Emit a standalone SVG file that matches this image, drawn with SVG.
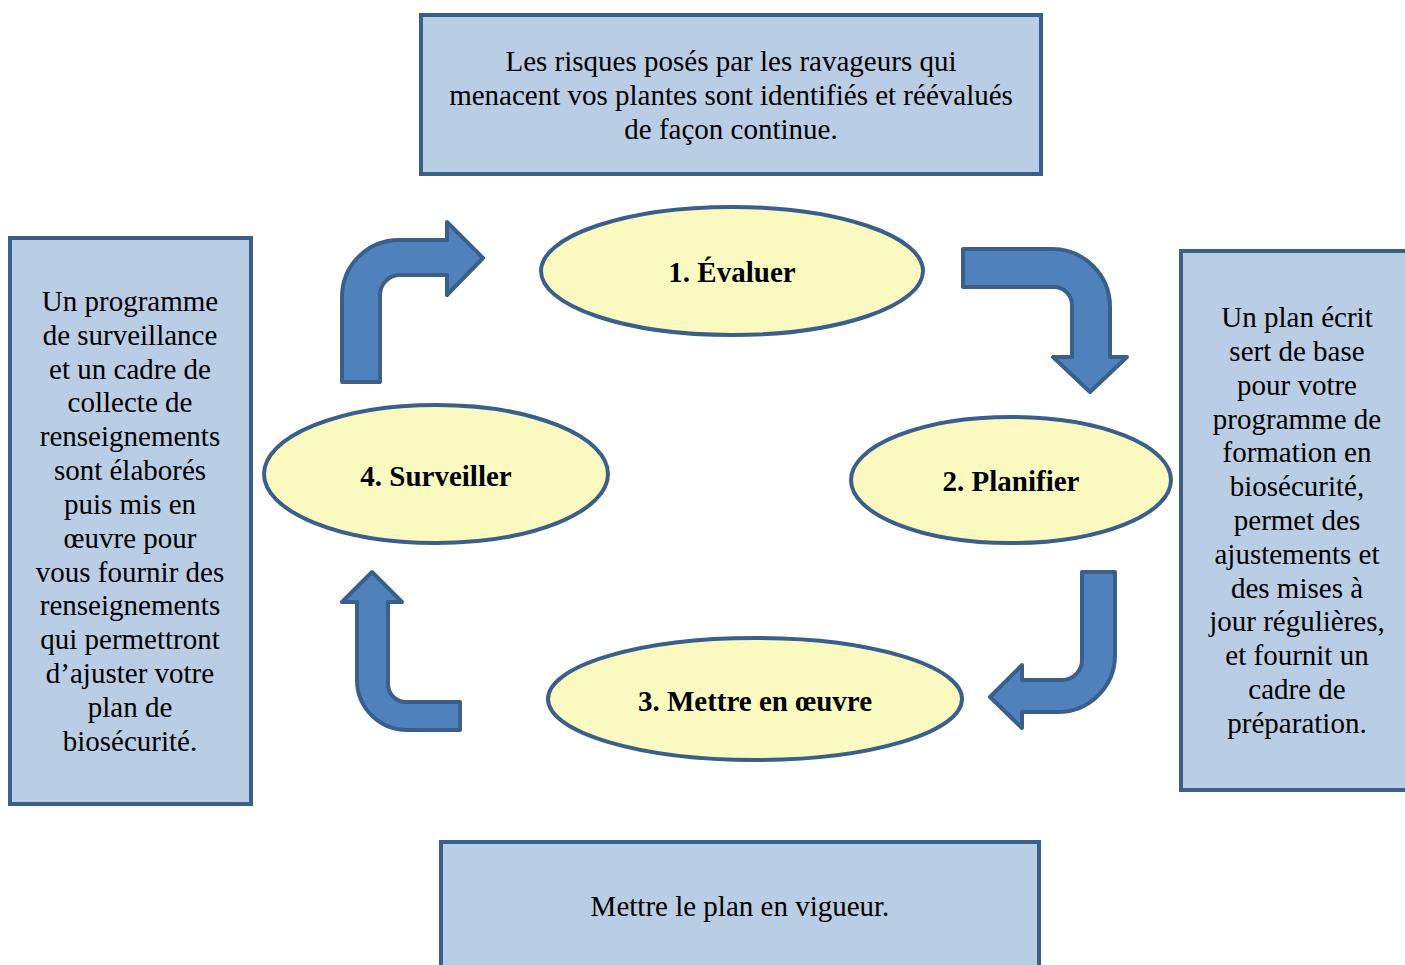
<svg xmlns="http://www.w3.org/2000/svg" width="1405" height="965" viewBox="0 0 1405 965">
<style>
.box{fill:#B9CDE5;stroke:#3A5F8B;stroke-width:4}
.ell{fill:#FAFAC0;stroke:#3A5F8B;stroke-width:4}
.arr{fill:#4F81BD;stroke:#3A5F8B;stroke-width:4;stroke-linejoin:round}
.t{font-family:"Liberation Serif","Times New Roman",serif;font-size:29px;fill:#000;text-anchor:middle}
.b{font-weight:bold}
</style>
<rect width="1405" height="965" fill="#FFFFFF"/>
<g id="box-top">
<rect class="box" x="421" y="15" width="620" height="159"/>
<text class="t" x="731" y="71">Les risques posés par les ravageurs qui</text>
<text class="t" x="731" y="105">menacent vos plantes sont identifiés et réévalués</text>
<text class="t" x="731" y="139">de façon continue.</text>
</g>
<g id="box-left">
<rect class="box" x="10" y="238" width="241" height="566"/>
<text class="t" x="130" y="311">Un programme</text>
<text class="t" x="130" y="345">de surveillance</text>
<text class="t" x="130" y="379">et un cadre de</text>
<text class="t" x="130" y="412">collecte de</text>
<text class="t" x="130" y="446">renseignements</text>
<text class="t" x="130" y="480">sont élaborés</text>
<text class="t" x="130" y="514">puis mis en</text>
<text class="t" x="130" y="548">œuvre pour</text>
<text class="t" x="130" y="582">vous fournir des</text>
<text class="t" x="130" y="615">renseignements</text>
<text class="t" x="130" y="649">qui permettront</text>
<text class="t" x="130" y="683">d’ajuster votre</text>
<text class="t" x="130" y="717">plan de</text>
<text class="t" x="130" y="751">biosécurité.</text>
</g>
<g id="box-right">
<rect class="box" x="1181" y="251" width="240" height="539"/>
<text class="t" x="1297" y="327">Un plan écrit</text>
<text class="t" x="1297" y="361">sert de base</text>
<text class="t" x="1297" y="395">pour votre</text>
<text class="t" x="1297" y="429">programme de</text>
<text class="t" x="1297" y="462">formation en</text>
<text class="t" x="1297" y="496">biosécurité,</text>
<text class="t" x="1297" y="530">permet des</text>
<text class="t" x="1297" y="564">ajustements et</text>
<text class="t" x="1297" y="598">des mises à</text>
<text class="t" x="1297" y="631">jour régulières,</text>
<text class="t" x="1297" y="665">et fournit un</text>
<text class="t" x="1297" y="699">cadre de</text>
<text class="t" x="1297" y="733">préparation.</text>
</g>
<g id="box-bottom">
<rect class="box" x="441" y="842" width="598" height="140"/>
<text class="t" x="740" y="916">Mettre le plan en vigueur.</text>
</g>
<g id="node-evaluer">
<ellipse class="ell" cx="732" cy="271" rx="191" ry="64"/>
<text class="t b" x="732" y="282">1. Évaluer</text>
</g>
<g id="node-planifier">
<ellipse class="ell" cx="1011" cy="480" rx="160" ry="63"/>
<text class="t b" x="1011" y="491">2. Planifier</text>
</g>
<g id="node-mettre">
<ellipse class="ell" cx="755" cy="699" rx="207" ry="61"/>
<text class="t b" x="755" y="711">3. Mettre en œuvre</text>
</g>
<g id="node-surveiller">
<ellipse class="ell" cx="436" cy="474" rx="172" ry="69"/>
<text class="t b" x="436" y="486">4. Surveiller</text>
</g>
<g id="connectors">
<path class="arr" d="M342,382 L342,297 A57,57 0 0 1 399,240 L447,240 L447,222 L483,258 L447,295 L447,275 L400,275 A20,20 0 0 0 380,295 L380,382 Z"/>
<path class="arr" d="M963,249 L1052,249 A58,58 0 0 1 1110,307 L1110,357 L1127,357 L1090,392 L1053,357 L1072,357 L1072,305 A18,18 0 0 0 1054,287 L963,287 Z"/>
<path class="arr" d="M1082,572 L1115,572 L1115,655 A57,57 0 0 1 1058,712 L1022,712 L1022,728 L990,697 L1022,665 L1022,680 L1062,680 A20,20 0 0 0 1082,660 Z"/>
<path class="arr" d="M372,572 L402,602 L388,602 L388,684 A18,18 0 0 0 406,702 L460,702 L460,730 L407,730 A50,50 0 0 1 357,680 L357,602 L342,602 Z"/>
</g>
</svg>
